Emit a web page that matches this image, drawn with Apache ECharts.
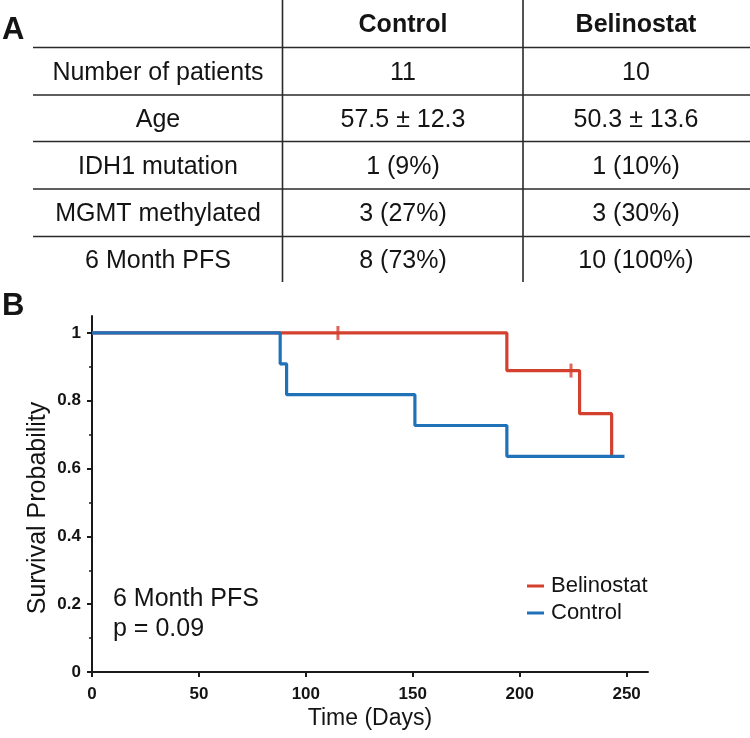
<!DOCTYPE html>
<html>
<head>
<meta charset="utf-8">
<script src="https://cdn.jsdelivr.net/npm/echarts@6/dist/echarts.min.js"></script>
<style>
html,body{margin:0;padding:0;background:#fff;}
#chart{width:750px;height:738px;}
</style>
</head>
<body>
<div id="chart"></div>
<script>
// ---- Data ----
const tableHeaders = ['Control', 'Belinostat'];
const rowLabels = ['Number of patients', 'Age', 'IDH1 mutation', 'MGMT methylated', '6 Month PFS'];
const controlVals = ['11', '57.5 \u00B1 12.3', '1 (9%)', '3 (27%)', '8 (73%)'];
const belinostatVals = ['10', '50.3 \u00B1 13.6', '1 (10%)', '3 (30%)', '10 (100%)'];

const seriesNames = ['Belinostat', 'Control'];
const belinostatDays = [0, 194, 228, 243];
const belinostatSurv = [1, 0.889, 0.762, 0.635];
const belinostatCensorDays = [115, 224];
const belinostatCensorSurv = [1, 0.889];
const controlDays = [0, 88, 91, 151, 194, 249];
const controlSurv = [1, 0.909, 0.818, 0.727, 0.636, 0.636];

const xTicks = [0, 50, 100, 150, 200, 250];
const yTicks = [0, 0.2, 0.4, 0.6, 0.8, 1];
const yMinorTicks = [0.1, 0.3, 0.5, 0.7, 0.9];

const annotation = ['6 Month PFS', 'p = 0.09'];
const panelLabels = ['A', 'B'];
const xTitle = 'Time (Days)';
const yTitle = 'Survival Probability';

// ---- Build ----
const FONT = '"Liberation Sans", Arial, Helvetica, sans-serif';
const RED = '#d4402e';
const BLUE = '#1f71b8';
const TXT = '#141414';

const chart = echarts.init(document.getElementById('chart'), null, {renderer: 'canvas'});

const zip = (a, b) => a.map((v, i) => [v, b[i]]);

// Table graphic
const graphics = [];
const lineStyle = {stroke: '#2a2a2a', lineWidth: 1.6};
const hLines = [47.5, 95, 141.5, 189, 236.5];
hLines.forEach(y => graphics.push({type: 'line', shape: {x1: 33, y1: y, x2: 750, y2: y}, style: lineStyle, silent: true}));
[282.5, 523].forEach(x => graphics.push({type: 'line', shape: {x1: x, y1: 0, x2: x, y2: 282}, style: lineStyle, silent: true}));

const colCenters = [158, 403, 636];
const rowCenters = [73.5, 120.5, 167.5, 214.5, 261.5];
const tableText = (x, y, text, bold) => ({
  type: 'text', x: x, y: y, silent: true,
  style: {text: text, fontFamily: FONT, fontSize: 25, fontWeight: bold ? 'bold' : 'normal',
          fill: TXT, align: 'center', verticalAlign: 'middle'}
});
graphics.push(tableText(colCenters[1], 25, tableHeaders[0], true));
graphics.push(tableText(colCenters[2], 25, tableHeaders[1], true));
rowLabels.forEach((lab, i) => {
  graphics.push(tableText(colCenters[0], rowCenters[i], lab, false));
  graphics.push(tableText(colCenters[1], rowCenters[i], controlVals[i], false));
  graphics.push(tableText(colCenters[2], rowCenters[i], belinostatVals[i], false));
});

// Panel labels
graphics.push({type: 'text', x: 2, y: 30, silent: true,
  style: {text: panelLabels[0], fontFamily: FONT, fontSize: 31, fontWeight: 'bold', fill: TXT, align: 'left', verticalAlign: 'middle'}});
graphics.push({type: 'text', x: 2, y: 306, silent: true,
  style: {text: panelLabels[1], fontFamily: FONT, fontSize: 31, fontWeight: 'bold', fill: TXT, align: 'left', verticalAlign: 'middle'}});

// Annotation
graphics.push({type: 'text', x: 113, y: 599, silent: true,
  style: {text: annotation[0], fontFamily: FONT, fontSize: 25, fill: TXT, align: 'left', verticalAlign: 'middle'}});
graphics.push({type: 'text', x: 113, y: 629, silent: true,
  style: {text: annotation[1], fontFamily: FONT, fontSize: 25, fill: TXT, align: 'left', verticalAlign: 'middle'}});

// Y title
graphics.push({type: 'text', x: 38, y: 508, rotation: Math.PI / 2, silent: true,
  style: {text: yTitle, fontFamily: FONT, fontSize: 25, fill: TXT, align: 'center', verticalAlign: 'middle'}});

const axisLine = {show: true, lineStyle: {color: '#1a1a1a', width: 2}};

const option = {
  animation: false,
  backgroundColor: '#fff',
  textStyle: {fontFamily: FONT},
  grid: {left: 92, right: 102, top: 316, bottom: 66, containLabel: false},
  legend: {
    data: seriesNames,
    orient: 'vertical',
    left: 527, top: 575,
    padding: 0,
    itemWidth: 17, itemHeight: 3, itemGap: 5,
    icon: 'rect',
    textStyle: {fontFamily: FONT, fontSize: 22, color: TXT, padding: [0, 0, 0, 2]}
  },
  xAxis: {
    type: 'value', min: 0, max: 260,
    name: xTitle, nameLocation: 'middle', nameGap: 35,
    nameTextStyle: {fontFamily: FONT, fontSize: 23, color: TXT},
    axisLine: axisLine,
    axisTick: {show: true, inside: false, length: 5, customValues: xTicks, lineStyle: {color: '#1a1a1a', width: 2}},
    axisLabel: {customValues: xTicks, margin: 14, fontFamily: FONT, fontSize: 17, fontWeight: 'bold', color: TXT},
    splitLine: {show: false}
  },
  yAxis: [{
    type: 'value', min: 0, max: 1.05,
    axisLine: axisLine,
    axisTick: {show: true, inside: false, length: 5, customValues: yTicks, lineStyle: {color: '#1a1a1a', width: 2}},
    axisLabel: {customValues: yTicks, margin: 11, fontFamily: FONT, fontSize: 17, fontWeight: 'bold', color: TXT},
    splitLine: {show: false}
  }, {
    type: 'value', min: 0, max: 1.05, position: 'left',
    axisLine: {show: false},
    axisTick: {show: true, inside: false, length: 3, customValues: yMinorTicks, lineStyle: {color: '#1a1a1a', width: 1.5}},
    axisLabel: {show: false},
    splitLine: {show: false}
  }],
  series: [{
    name: seriesNames[0], type: 'line', step: 'end',
    data: zip(belinostatDays, belinostatSurv),
    showSymbol: false, symbol: 'none',
    lineStyle: {color: RED, width: 3.2},
    itemStyle: {color: RED},
    z: 2
  }, {
    name: 'Belinostat censored', type: 'scatter',
    data: zip(belinostatCensorDays, belinostatCensorSurv),
    symbol: 'rect', symbolSize: [3, 14],
    itemStyle: {color: RED},
    z: 3
  }, {
    name: seriesNames[1], type: 'line', step: 'end',
    data: zip(controlDays, controlSurv),
    showSymbol: false, symbol: 'none',
    lineStyle: {color: BLUE, width: 3.2},
    itemStyle: {color: BLUE},
    z: 4
  }],
  graphic: graphics
};

chart.setOption(option);
</script>
</body>
</html>
